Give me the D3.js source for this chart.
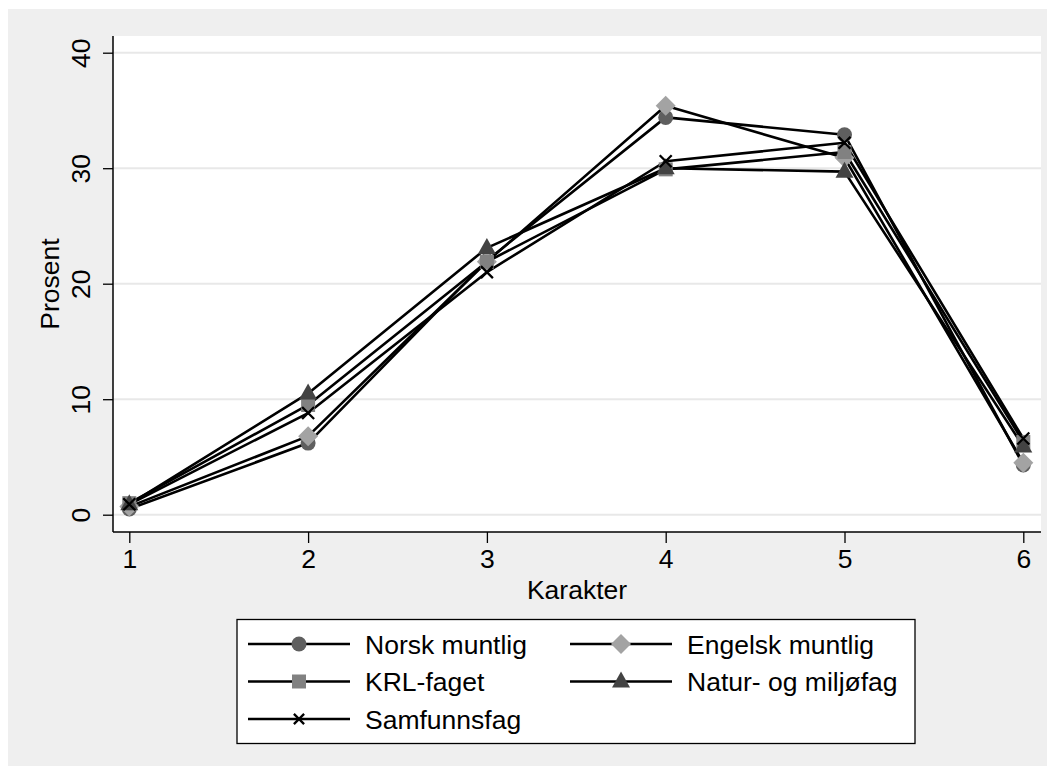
<!DOCTYPE html>
<html><head><meta charset="utf-8">
<script src="https://cdn.jsdelivr.net/npm/d3@7"></script>
<style>body{margin:0;background:#fff;}svg{display:block;font-family:"Liberation Sans",Arial,Helvetica,sans-serif;}</style>
</head><body><svg id="c" width="1055" height="774"></svg>
<script>
const categories = [1, 2, 3, 4, 5, 6];
const yTicks = [0, 10, 20, 30, 40];
const seriesNames = ["Norsk muntlig", "Engelsk muntlig", "KRL-faget", "Natur- og miljøfag", "Samfunnsfag"];
const norsk    = [0.5, 6.2, 22.0, 34.4, 32.9, 4.3];
const engelsk  = [0.7, 6.8, 21.9, 35.4, 30.9, 4.5];
const krl      = [1.0, 9.5, 21.9, 29.9, 31.4, 6.3];
const natur    = [0.9, 10.5, 23.1, 30.0, 29.7, 5.9];
const samfunn  = [0.9, 8.8, 21.0, 30.6, 32.2, 6.6];
const seriesValues = [norsk, engelsk, krl, natur, samfunn];
const markerTypes = ["circle", "diamond", "square", "triangle", "x"];
const markerColors = ["#5f5f5f", "#a3a3a3", "#818181", "#434343", "#000000"];

const svg = d3.select("#c");
svg.append("rect").attr("x",8).attr("y",9).attr("width",1039).attr("height",757).attr("fill","#efefef");

const L = 113, R = 1041, T = 36, B = 532;
svg.append("rect").attr("x",L).attr("y",T).attr("width",R-L).attr("height",B-T).attr("fill","#fff");

const x = d3.scaleLinear().domain([1,6]).range([129.3,1023.3]);
const y = d3.scaleLinear().domain([0,40]).range([514.7,52.7]);

svg.append("g").selectAll("line").data(yTicks).join("line")
  .attr("x1",L).attr("x2",R).attr("y1",d=>y(d)).attr("y2",d=>y(d))
  .attr("stroke","#e8e8e8").attr("stroke-width",2);

const fs = 26.5;
const yAxis = svg.append("g").attr("transform",`translate(${L},0)`)
  .call(d3.axisLeft(y).tickValues(yTicks).tickSize(10).tickSizeOuter(0).tickPadding(0));
yAxis.select(".domain").remove();
yAxis.selectAll(".tick line").attr("stroke","#000").attr("stroke-width",1.3);
yAxis.selectAll(".tick text").attr("font-size",fs).attr("fill","#000")
  .attr("text-anchor","middle").attr("transform","rotate(-90)").attr("x",0).attr("dy",0).attr("y",-23.5);
svg.append("line").attr("x1",L).attr("x2",L).attr("y1",T).attr("y2",B).attr("stroke","#000").attr("stroke-width",1.5);

const xAxis = svg.append("g").attr("transform",`translate(0,${B})`)
  .call(d3.axisBottom(x).tickValues(categories).tickFormat(d3.format("d")).tickSize(11).tickSizeOuter(0).tickPadding(2));
xAxis.select(".domain").remove();
xAxis.selectAll(".tick line").attr("stroke","#000").attr("stroke-width",1.3);
xAxis.selectAll(".tick text").attr("font-size",fs).attr("fill","#000").attr("dy","0.88em");
svg.append("line").attr("x1",L).attr("x2",R).attr("y1",B).attr("y2",B).attr("stroke","#000").attr("stroke-width",1.5);

svg.append("text").attr("x",577).attr("y",599).attr("text-anchor","middle").attr("font-size",fs).text("Karakter");
svg.append("text").attr("transform","translate(59,284) rotate(-90)").attr("text-anchor","middle").attr("font-size",fs).text("Prosent");

function drawMarker(g, type, color, cx, cy, s) {
  s = s || 1;
  if (type==="circle") g.append("circle").attr("cx",cx).attr("cy",cy).attr("r",7.5*s).attr("fill",color);
  else if (type==="diamond") g.append("path").attr("d",`M${cx},${cy-10*s}L${cx+10*s},${cy}L${cx},${cy+10*s}L${cx-10*s},${cy}Z`).attr("fill",color);
  else if (type==="square") g.append("rect").attr("x",cx-7*s).attr("y",cy-7*s).attr("width",14*s).attr("height",14*s).attr("fill",color);
  else if (type==="triangle") g.append("path").attr("d",`M${cx},${cy-10*s}L${cx+9*s},${cy+6*s}L${cx-9*s},${cy+6*s}Z`).attr("fill",color);
  else if (type==="x") { const h = 6*s; g.append("path").attr("d",`M${cx-h},${cy-h}L${cx+h},${cy+h}M${cx-h},${cy+h}L${cx+h},${cy-h}`).attr("stroke",color).attr("stroke-width",2.3).attr("fill","none"); }
}

const line = d3.line().x((d,i)=>x(categories[i])).y(d=>y(d));
const plotG = svg.append("g");
seriesValues.forEach((vals)=>{
  plotG.append("path").attr("d",line(vals)).attr("fill","none").attr("stroke","#000").attr("stroke-width",2.6).attr("stroke-linejoin","round");
});
seriesValues.forEach((vals,si)=>{
  vals.forEach((v,i)=>drawMarker(plotG, markerTypes[si], markerColors[si], x(categories[i]), y(v)));
});

const lg = svg.append("g");
lg.append("rect").attr("x",237).attr("y",619.5).attr("width",678).attr("height",124).attr("fill","#fff").attr("stroke","#000").attr("stroke-width",1.3);
const rowsY = [644, 681.5, 719];
const colX = [248, 570];
seriesNames.forEach((name,i)=>{
  const col = i%2, row = Math.floor(i/2);
  const lx = colX[col], ly = rowsY[row];
  lg.append("line").attr("x1",lx).attr("x2",lx+102).attr("y1",ly).attr("y2",ly).attr("stroke","#000").attr("stroke-width",2.6);
  drawMarker(lg, markerTypes[i], markerColors[i], lx+51, ly, markerTypes[i]==="x" ? 0.85 : 1);
  lg.append("text").attr("x",lx+117).attr("y",ly+9.5).attr("font-size",fs).text(name);
});
</script></body></html>
